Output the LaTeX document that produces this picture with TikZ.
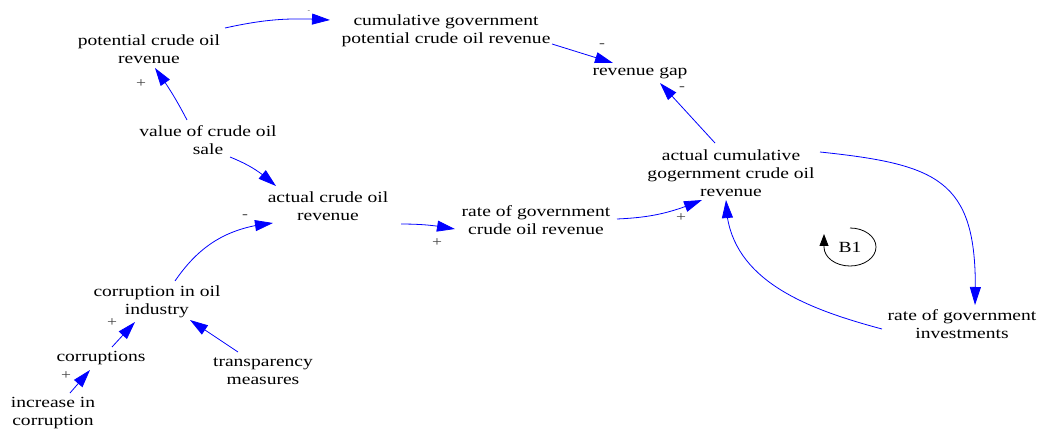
\documentclass[tikz,border=0pt]{standalone}
\usepackage{fontspec}
\setmainfont{Liberation Serif}[FakeStretch=1.26]
\usetikzlibrary{arrows.meta,bending}
\begin{document}
\begin{tikzpicture}[x=1pt,y=1pt]
\tikzset{
  var/.style={align=center, inner sep=0pt, font=\fontsize{15.5}{18}\selectfont},
  link/.style={draw=blue, line width=0.8pt, -{Triangle[length=18pt,width=11pt]}},
  loopar/.style={draw=black, line width=0.8pt, -{Triangle[length=12pt,width=9pt]}},
  sign/.style={inner sep=0pt, text=black!75, font=\fontsize{14}{14}\selectfont}
}
\useasboundingbox (0,0) rectangle (1043,-430);
% variables
\node[var] (pcr) at (149,-49) {potential crude oil\\revenue};
\node[var] (cgp) at (446,-31) {cumulative government\\potential crude oil revenue};
\node[var] (gap) at (640,-73) {revenue gap};
\node[var] (vcs) at (208,-140) {value of crude oil\\sale};
\node[var] (acr) at (328,-206) {actual crude oil\\revenue};
\node[var] (rgc) at (536,-220) {rate of government\\crude oil revenue};
\node[var] (acg) at (731,-173) {actual cumulative\\gogernment crude oil\\revenue};
\node[var] (rgi) at (962,-324) {rate of government\\investments};
\node[var] (coi) at (157,-302) {corruption in oil\\industry};
\node[var] (cor) at (101,-358) {corruptions};
\node[var] (tm) at (263,-371) {transparency\\measures};
\node[var] (inc) at (53,-413) {increase in\\corruption};
\node[var] (b1) at (850,-247) {B1};
% links
\draw[link] ([shift={(76,21)}]pcr.center) to[bend left=8] ([shift={(-116,11)}]cgp.center);
\draw[link] ([shift={(106,-13)}]cgp.center) -- ([shift={(-27,10)}]gap.center);
\draw[link] ([shift={(-16,30)}]acg.center) -- ([shift={(20,-10)}]gap.center);
\draw[link] ([shift={(-21,20)}]vcs.center) to[bend right=4] ([shift={(6,-19)}]pcr.center);
\draw[link] ([shift={(22,-17)}]vcs.center) to[bend left=10] ([shift={(-52,20)}]acr.center);
\draw[link] ([shift={(18,21)}]coi.center) to[bend left=25] ([shift={(-55,-17)}]acr.center);
\draw[link] ([shift={(73,-18)}]acr.center) to[bend left=5] ([shift={(-81,-9)}]rgc.center);
\draw[link] ([shift={(81,1)}]rgc.center) to[bend right=10] ([shift={(-29,-27)}]acg.center);
\draw[link] ([shift={(89,21)}]acg.center) to[out=-6,in=88,looseness=1.45] ([shift={(13,19)}]rgi.center);
\draw[link] ([shift={(-80,-5)}]rgi.center) to[out=165,in=-90] ([shift={(-5,-27)}]acg.center);
\draw[link] ([shift={(11,11)}]cor.center) -- ([shift={(-22,-20)}]coi.center);
\draw[link] ([shift={(-25,19)}]tm.center) -- ([shift={(33,-18)}]coi.center);
\draw[link] ([shift={(17,20)}]inc.center) -- ([shift={(-11,-12)}]cor.center);
% loop marker
\draw[loopar] ([shift={(0,19)}]b1.center) arc[start angle=90,end angle=-180,x radius=26,y radius=19] -- ++(0,13);
% polarity signs
\node[sign, font=\fontsize{6}{6}\selectfont] (s0) at (309,-12) {-};
\node[sign] (s1) at (141,-84) {+};
\node[sign] (s2) at (602,-46) {-};
\node[sign] (s3) at (682,-89) {-};
\node[sign] (s4) at (245,-217) {-};
\node[sign] (s5) at (437,-243) {+};
\node[sign] (s6) at (681,-218) {+};
\node[sign] (s7) at (112,-323) {+};
\node[sign] (s8) at (66,-376) {+};
\end{tikzpicture}
\end{document}
